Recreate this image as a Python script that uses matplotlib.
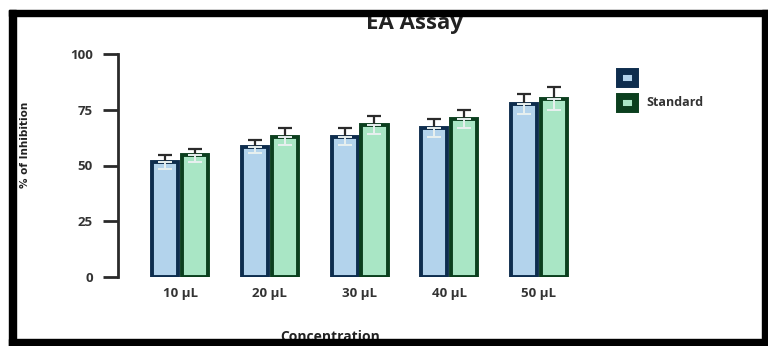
import numpy as np
import matplotlib.pyplot as plt
from matplotlib.patches import Rectangle, Patch

# EA assay inhibition data
concentrations = ["10 µL", "20 µL", "30 µL", "40 µL", "50 µL"]
sample_vals = [51.5, 58.5, 63.0, 67.0, 77.5]
sample_err = [3.0, 3.0, 4.0, 4.0, 4.5]
standard_vals = [54.5, 63.0, 68.0, 71.0, 80.0]
standard_err = [3.0, 4.0, 4.0, 4.0, 5.0]
series_names = ["", "Standard"]

W, H = 768, 346
plt.rcParams['font.family'] = ['Open Sans', 'DejaVu Sans']

fig = plt.figure(figsize=(W / 100, H / 100), dpi=100)
ax = fig.add_axes([118 / W, 1 - 277 / H, (580 - 118) / W, (277 - 54) / H])

x = np.arange(len(concentrations))
width = 0.29
off = 0.167

fills = ["#b3d3ec", "#a9e6c5"]
edges = ["#0e2d4e", "#0b3f1e"]

def draw_bars(pos, vals, errs, fill, edge):
    ax.bar(pos, vals, width, color=fill, edgecolor=edge, linewidth=2.8, zorder=2)
    # upper whisker dark, lower one light inside the bar
    ax.errorbar(pos, vals, yerr=[np.zeros(len(vals)), errs], fmt="none",
                ecolor="#2b2b2b", elinewidth=1.6, capsize=5, capthick=1.6, zorder=3)
    ax.errorbar(pos, vals, yerr=[errs, np.zeros(len(vals))], fmt="none",
                ecolor="#e8f0f0", elinewidth=1.4, capsize=5, capthick=1.4, zorder=3)

draw_bars(x - off, sample_vals, sample_err, fills[0], edges[0])
draw_bars(x + off, standard_vals, standard_err, fills[1], edges[1])

ax.set_xlim(-0.691, 4.457)
ax.set_ylim(0, 100)
ax.set_yticks([0, 25, 50, 75, 100])
ax.set_xticks(x)
ax.set_xticklabels(concentrations)

for s in ["top", "right", "bottom"]:
    ax.spines[s].set_visible(False)
ax.spines["left"].set_linewidth(2)
ax.spines["left"].set_color("#2a2a2a")

ax.tick_params(axis="y", length=11, width=2, color="#2a2a2a", pad=7,
               labelsize=9.5, labelcolor="#333333")
ax.tick_params(axis="x", length=0, pad=7, labelsize=9.5, labelcolor="#333333")
for lbl in ax.get_xticklabels() + ax.get_yticklabels():
    lbl.set_fontweight("bold")

handles = [Patch(facecolor=f, edgecolor=e, linewidth=5) for f, e in zip(fills, edges)]
leg = fig.legend(handles, series_names, loc="upper left",
                 bbox_to_anchor=(613 / W, 1 - 65 / H), frameon=False,
                 borderpad=0, handlelength=1.25, handleheight=1.25,
                 handletextpad=0.9, labelspacing=0.85,
                 prop={"size": 9, "weight": "bold"})
for t in leg.get_texts():
    t.set_color("#333333")

fig.text(414 / W, 1 - 24 / H, "EA Assay", ha="center", va="center",
         fontsize=16, fontweight="bold", color="#222222")
fig.text(330 / W, 1 - 337 / H, "Concentration", ha="center", va="center",
         fontsize=10, fontweight="bold", color="#222222")
fig.text(25 / W, 1 - 145 / H, "% of Inhibition", ha="center", va="center",
         rotation=90, fontsize=7.5, fontweight="bold", color="#222222",
         family=["Liberation Sans Narrow", "DejaVu Sans"])

# thick black frame around the figure
for (x0, y0, w, h) in [(9, 10, 759, 6), (9, 339, 759, 7), (9, 10, 7, 336), (762, 10, 6, 336)]:
    fig.add_artist(Rectangle((x0 / W, 1 - (y0 + h) / H), w / W, h / H,
                             transform=fig.transFigure, color="black", zorder=10))

fig.savefig("out.png", dpi=100)
